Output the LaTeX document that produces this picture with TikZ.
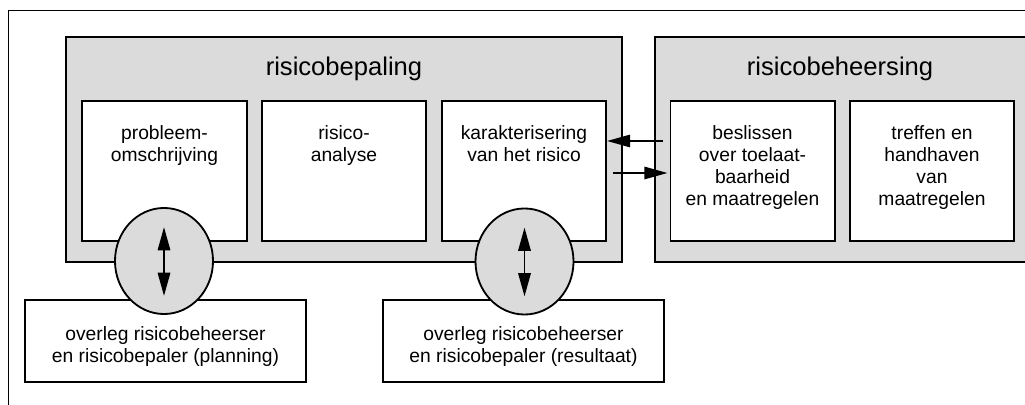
\documentclass[tikz,border=0pt]{standalone}
\usepackage{fontspec}
\setmainfont{Liberation Sans}
\usetikzlibrary{shapes.geometric,arrows.meta,calc}
\definecolor{shade}{gray}{0.86}
\begin{document}
\begin{tikzpicture}[x=0.025cm,y=-0.025cm,
  bigbox/.style={fill=shade, line width=1.4pt, inner sep=0pt, minimum height=5.625cm},
  stage/.style={draw, fill=white, line width=1.4pt, inner sep=0pt, minimum width=4.1cm, minimum height=3.475cm},
  talk/.style={draw, fill=white, line width=1.3pt, inner sep=0pt, minimum width=7.025cm, minimum height=2.05cm},
  bubble/.style={ellipse, draw, fill=shade, line width=1.3pt, inner sep=0pt, minimum width=2.45cm, minimum height=2.65cm},
  titletext/.style={font=\fontsize{18.2}{22}\selectfont, inner sep=0pt, anchor=base},
  boxtext/.style={font=\fontsize{13.7}{15.5}\selectfont, align=center, inner sep=0pt, anchor=north},
  conn/.style={line width=1.4pt, -{Triangle[length=16.5pt,width=8.8pt]}},
  dconn/.style={line width=1.4pt, {Triangle[length=16.5pt,width=8.8pt]}-{Triangle[length=16.5pt,width=8.8pt]}},
  framestyle/.style={line width=0.75pt}
]
\useasboundingbox (0,0) rectangle (1025,405);
% outer frame (only top and left visible)
\draw[framestyle] (8.5,405) -- (8.5,10.5) -- (1025,10.5);

% big boxes
\node[bigbox, draw, minimum width=13.9cm] (bp) at (344,149.5) {};
\node[bigbox, outer sep=0pt, minimum width=9.25cm] (bh) at (840,149.5) {};
\draw[line width=1.4pt] (bh.north east) -- (bh.north west) -- (bh.south west) -- (bh.south east);

\node[titletext] (tbp) at (344,76) {risicobepaling};
\node[titletext] (tbh) at (840,76) {risicobeheersing};

% inner boxes
\node[stage] (pb) at (164.5,171) {};
\node[stage] (ra) at (344,171) {};
\node[stage] (kr) at (524,171) {};
\node[stage] (bs) at (752.5,171) {};
\node[stage] (tr) at (932,171) {};

\node[boxtext] (tpb) at (164.5,125.5) {probleem-\\omschrijving};
\node[boxtext] (tra) at (344,125.5) {risico-\\analyse};
\node[boxtext] (tkr) at (524,125.5) {karakterisering\\van het risico};
\node[boxtext] (tbs) at (752.5,125.5) {beslissen\\over toelaat-\\baarheid\\en maatregelen};
\node[boxtext] (ttr) at (932,125.5) {treffen en\\handhaven\\van\\maatregelen};

% consultation boxes
\node[talk] (ov1) at (165.5,341) {};
\node[talk] (ov2) at (523.5,341) {};
\node[boxtext] (tov1) at (165.5,326) {overleg risicobeheerser\\en risicobepaler (planning)};
\node[boxtext] (tov2) at (523.5,326) {overleg risicobeheerser\\en risicobepaler (resultaat)};

% bubbles
\node[bubble] (e1) at (164,261) {};
\node[bubble] (e2) at (524.5,261.5) {};

% connectors
\draw[dconn] ([yshift=-0.5cm]e1.north) -- ([yshift=0.475cm]e1.south);
\draw[dconn] ([yshift=-0.5cm]e2.north) -- ([yshift=0.475cm]e2.south);
\draw[conn] ([xshift=-0.175cm,yshift=0.75cm]bs.west) -- ([yshift=0.75cm]kr.east);
\draw[conn] ([xshift=0.15cm,yshift=-0.05cm]kr.east) -- ([xshift=-0.05cm,yshift=-0.05cm]bs.west);
\end{tikzpicture}
\end{document}
